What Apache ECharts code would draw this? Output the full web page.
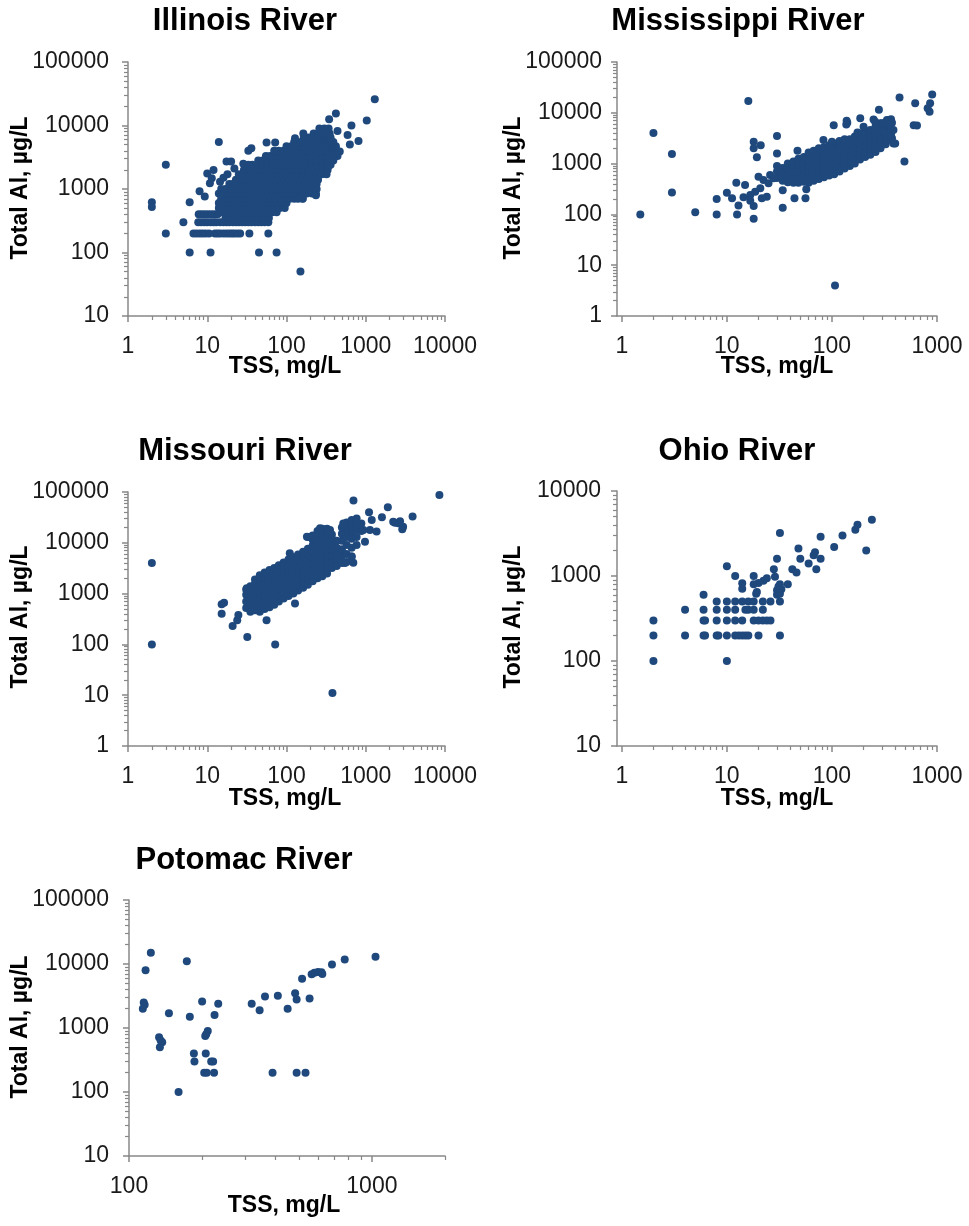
<!DOCTYPE html>
<html><head><meta charset="utf-8">
<script src="https://cdn.jsdelivr.net/npm/echarts@6/dist/echarts.min.js"></script>
<style>html,body{margin:0;padding:0;background:#fff}#c{width:969px;height:1226px}</style>
</head><body><div id="c"></div>
<script>
// ---------------- DATA ----------------
const titles = ['Illinois River', 'Mississippi River', 'Missouri River', 'Ohio River', 'Potomac River'];
const xTitle = 'TSS, mg/L';
const yTitle = 'Total Al, µg/L';

// axis extents and labelled (major) ticks
const xMin = [1, 0.9, 1, 0.9, 100];
const xMax = [10000, 1000, 10000, 1000, 2000];
const yMin = [10, 1, 1, 10, 10];
const yMax = [100000, 100000, 100000, 10000, 100000];
const xTickLabels = [[1, 10, 100, 1000, 10000], [1, 10, 100, 1000], [1, 10, 100, 1000, 10000], [1, 10, 100, 1000], [100, 1000]];
const yTickLabels = [[10, 100, 1000, 10000, 100000], [1, 10, 100, 1000, 10000, 100000], [1, 10, 100, 1000, 10000, 100000], [10, 100, 1000, 10000], [10, 100, 1000, 10000, 100000]];

// Illinois: rows of [Total Al, [TSS values]] for the dense cloud, plus single points [TSS, Al]
const illinoisRows = [
  [200, [6.7, 7.3, 8, 8.7, 9.5, 10.5, 12.5, 13.5, 14.5, 16, 17.5, 19, 20.5, 22, 24, 26, 34, 59]],
  [300, [7.7, 8.4, 9.2, 10, 11, 12, 13, 14.5, 16, 17.5, 19, 21, 23, 25, 27.5, 30, 33, 36, 40, 44, 48, 53, 59]],
  [350, [17, 19, 22, 25, 29, 33, 38, 44, 51, 60]],
  [400, [7.8, 8.5, 9.3, 10.2, 11.2, 12.3, 13.5]],
  [430, [15, 16, 18, 21, 24, 28, 32, 37, 43, 50, 58, 66, 75]],
  [500, [14, 17, 19, 22, 26, 30, 35, 40, 46, 53, 62, 71, 82, 95]],
  [600, [14, 16, 18, 21, 24, 28, 32, 37, 43, 50, 58, 67, 77, 89, 100]],
  [700, [15, 17, 20, 23, 26, 30, 35, 40, 46, 53, 62, 72, 83, 96, 110, 125, 140, 160]],
  [850, [14, 16, 18, 21, 24, 28, 32, 37, 43, 50, 58, 67, 77, 89, 100, 120, 135, 155, 180, 210, 235]],
  [1000, [15, 17, 20, 23, 26, 30, 35, 40, 46, 53, 62, 72, 83, 96, 110, 125, 145, 165, 190, 220, 240]],
  [1200, [19, 21, 24, 28, 32, 37, 43, 50, 58, 67, 77, 89, 100, 120, 135, 155, 180, 210, 240]],
  [1400, [23, 26, 30, 34, 40, 46, 53, 62, 72, 83, 95, 110, 125, 145, 165, 190, 220, 250]],
  [1700, [25, 28, 32, 37, 43, 50, 58, 67, 77, 89, 100, 120, 135, 155, 180, 210, 240, 280, 320]],
  [2000, [29, 34, 40, 46, 53, 62, 72, 83, 95, 110, 125, 145, 165, 190, 220, 250, 290, 330]],
  [2400, [33, 37, 43, 50, 58, 67, 77, 89, 100, 120, 135, 155, 180, 210, 240, 280, 320, 360]],
  [2800, [44, 50, 58, 67, 77, 89, 100, 120, 135, 155, 180, 210, 240, 280, 320, 370, 390]],
  [3300, [55, 62, 72, 83, 95, 110, 125, 145, 165, 190, 220, 250, 290, 330, 380, 440]],
  [4000, [70, 80, 92, 105, 120, 140, 160, 185, 210, 240, 280, 320, 370, 430]],
  [4700, [100, 115, 130, 150, 170, 195, 220, 250, 290, 330, 380, 420]],
  [5500, [125, 140, 160, 180, 210, 240, 280, 320, 360, 390]],
  [6500, [165, 190, 215, 245, 280, 320, 360]],
  [7500, [220, 250, 280, 320, 350]],
  [9000, [260, 300, 340]]
];
const illinoisPts = [
  [2, 620], [2, 520], [3, 2400], [3, 200], [5, 300], [6, 100], [11, 100], [45, 100], [75, 100], [150, 50],
  [14, 5500], [6, 620], [8, 920], [9.3, 760], [1300, 26000], [1030, 12000], [660, 10000], [590, 7100],
  [630, 5000], [810, 5700], [420, 15500], [440, 8200], [345, 12500], [470, 3900], [160, 710], [235, 800],
  [163, 7500], [128, 6300], [56, 5400], [72, 5400], [33, 4000], [36, 4400], [17.5, 2700], [20, 2700],
  [22, 2100], [28.5, 2500], [12, 2000], [10, 1750], [11.4, 1480], [14.5, 1300], [10.8, 1230], [16, 1500],
  [18, 1700], [336, 2250]
];

// Mississippi: columns of [TSS, [Al values]] for the band, plus single points
const mississippiCols = [
  [30, [520, 700, 900]],
  [34, [460, 620, 820]],
  [38, [430, 560, 760, 1000]],
  [43, [420, 540, 700, 900, 1100]],
  [48, [420, 560, 720, 950, 1250]],
  [54, [440, 580, 760, 1000, 1350]],
  [60, [420, 540, 700, 920, 1200, 1500, 1650]],
  [67, [460, 600, 780, 1000, 1300, 1650, 1800]],
  [75, [500, 650, 850, 1100, 1400, 1800, 2000]],
  [84, [540, 700, 900, 1150, 1500, 1900, 2100]],
  [94, [580, 750, 980, 1250, 1600, 2000, 2300]],
  [105, [620, 800, 1050, 1350, 1750, 2200, 2500]],
  [118, [700, 900, 1150, 1500, 1900, 2400, 2800]],
  [132, [800, 1000, 1300, 1700, 2150, 2700, 3000]],
  [148, [900, 1150, 1450, 1850, 2400, 3000]],
  [165, [1000, 1300, 1650, 2100, 2700, 3400]],
  [185, [1200, 1500, 1950, 2500, 3200, 3900]],
  [207, [1350, 1750, 2250, 2900, 3600, 4200]],
  [232, [1500, 1950, 2500, 3200, 4000, 4600]],
  [260, [1700, 2200, 2900, 3700, 4600, 5400]],
  [290, [2000, 2600, 3300, 4300, 5400, 6200]],
  [325, [2400, 3100, 4000, 5200, 6500]],
  [365, [2900, 3700, 4800, 6200, 7500]]
];
const mississippiPts = [
  [1.5, 100], [2, 4000], [3, 1550], [3, 270], [5, 110], [8, 100], [8, 200], [16, 17000], [18, 82], [107, 4],
  [490, 1100], [440, 20000], [620, 15500], [600, 5700], [645, 5600], [900, 23000], [860, 15400], [815, 12300],
  [850, 10500], [280, 11500], [186, 7800], [140, 6400], [137, 5900], [104, 5700], [249, 7400], [258, 6700],
  [346, 7200], [373, 6400], [300, 6200], [385, 4600], [373, 3150], [385, 2500], [200, 5300], [175, 4100],
  [30, 3500], [18, 2700], [21, 2300], [18, 2000], [19.3, 1330], [30, 1580], [47, 1800], [12.3, 420],
  [14.9, 380], [10, 267], [11.2, 207], [12.9, 150], [12.5, 100], [18, 146], [14.4, 217], [16.7, 241],
  [18.6, 280], [20.8, 326], [22.3, 475], [25.8, 596], [24.9, 409], [21.5, 207], [24, 223], [16.7, 186],
  [20, 553], [27.8, 513], [34, 300], [34, 135], [44, 207], [56, 207], [57, 312], [31, 808], [83, 2920],
  [100, 2700], [138, 6950], [334, 7200], [310, 4250], [400, 2500]
];

// Missouri: columns of [TSS, [Al values]] for the band, plus single points
const missouriCols = [
  [31, [520, 700, 950, 1200]],
  [35, [440, 600, 800, 1050, 1400]],
  [40, [470, 640, 860, 1150, 1550, 1900]],
  [46, [440, 590, 800, 1050, 1400, 1850, 2300]],
  [53, [500, 660, 880, 1150, 1550, 2000, 2600]],
  [61, [540, 720, 960, 1270, 1680, 2200, 2900]],
  [70, [600, 800, 1050, 1400, 1850, 2450, 3200]],
  [80, [700, 920, 1200, 1600, 2100, 2800, 3600]],
  [92, [800, 1050, 1400, 1850, 2400, 3200, 4100]],
  [106, [900, 1200, 1550, 2050, 2700, 3550, 4700]],
  [122, [1000, 1300, 1750, 2300, 3000, 3950, 5200]],
  [140, [1150, 1500, 2000, 2600, 3400, 4500, 5900]],
  [162, [1300, 1700, 2250, 2950, 3900, 5100, 6700]],
  [186, [1500, 1950, 2550, 3350, 4400, 5800, 7600, 13000]],
  [214, [1750, 2300, 3000, 3900, 5100, 6700, 8800, 11500, 14000]],
  [246, [2000, 2600, 3400, 4500, 5900, 7700, 10000, 13000, 17000]],
  [283, [2200, 2900, 3800, 5000, 6500, 8500, 11000, 14500, 19000]],
  [325, [2500, 3300, 4300, 5600, 7300, 9500, 12500, 16500, 19000]],
  [374, [3200, 4200, 5500, 7200, 9400, 12000, 14500]],
  [430, [3500, 4500, 6000, 8000, 11000]],
  [500, [4000, 5500, 7500, 11000, 15000, 20000]],
  [574, [4200, 6000, 9000, 13000, 18000, 25000]],
  [664, [5400, 8000, 12000, 16000, 22000, 28000]],
  [767, [9000, 13000, 18000, 24000, 30000]],
  [880, [17000, 24000]]
];
const missouriPts = [
  [2, 4000], [2, 100], [380, 11], [72, 100], [32, 140], [8500, 87000], [700, 68000], [1900, 50000],
  [3900, 33000], [1100, 40000], [1600, 32000], [128, 640], [110, 6200], [56, 300], [15.2, 620], [16.3, 660],
  [15.2, 400], [20.9, 230], [23.9, 300], [24.7, 380], [31.5, 1270], [265, 19300], [354, 17900], [181, 13200],
  [217, 13400], [520, 24000], [1130, 17900], [1370, 16600], [1190, 28000], [2220, 26000], [2570, 24200],
  [2890, 18400], [2340, 24900], [2710, 26700], [2960, 20700], [933, 17900], [978, 10500], [547, 4000],
  [697, 4060], [664, 5370]
];

// Ohio: rows of [Total Al, [TSS values]] (values were reported in steps), plus single points
const ohioRows = [
  [100, [2, 10]],
  [200, [2, 4, 6, 6.2, 8, 8.3, 10, 12, 13, 14, 15, 16, 20, 32]],
  [300, [2, 6, 6.2, 8, 10, 12, 14, 18, 20, 22, 24, 26]],
  [400, [4, 6, 8, 10, 12, 15, 16, 18, 22]],
  [500, [8, 10, 12, 14, 16, 18, 22, 26, 32]]
];
const ohioPts = [
  [6, 600], [19, 620], [30, 600], [12, 1000], [14, 820], [14, 710], [18, 1000], [18, 800], [20, 830],
  [22.3, 880], [24, 940], [19.3, 650], [28.7, 980], [28, 1200], [30, 1600], [32, 3200], [31, 750], [32, 800],
  [33, 700], [30, 680], [32, 620], [38, 800], [42, 1200], [46, 1100], [48, 2100], [50, 1600], [60, 1400],
  [69, 1900], [67, 1750], [78, 1600], [71, 1200], [105, 2200], [78, 2900], [126, 3000], [167, 3500],
  [175, 4000], [240, 4600], [212, 2000], [10, 1300]
];

// Potomac: single points [TSS, Al]
const potomacPts = [
  [123, 15000], [117, 8000], [173, 11000], [115, 2500], [116, 2300], [114, 2000], [146, 1700], [178, 1500],
  [200, 2600], [233, 2400], [225, 1600], [211, 900], [208, 800], [206, 750], [133, 720], [135, 640],
  [137, 600], [134, 500], [185, 400], [207, 400], [186, 300], [218, 300], [222, 300], [204, 200], [209, 200],
  [224, 200], [160, 100], [320, 2400], [345, 1900], [363, 3100], [410, 3200], [450, 2000], [483, 3500],
  [490, 2800], [554, 2900], [390, 200], [490, 200], [533, 200], [516, 5900], [565, 6900], [580, 7300],
  [600, 7500], [620, 7400], [625, 7000], [685, 9800], [773, 11800], [1035, 13000]
];

// ---------------- BUILD ----------------
const fromRows = rows => rows.flatMap(([al, xs]) => xs.map(x => [x, al]));
const fromCols = cols => cols.flatMap(([x, als]) => als.map(al => [x, al]));
const seriesData = [
  fromRows(illinoisRows).concat(illinoisPts),
  fromCols(mississippiCols).concat(mississippiPts),
  fromCols(missouriCols).concat(missouriPts),
  fromRows(ohioRows).concat(ohioPts),
  potomacPts
];

const FONT = '"Liberation Sans", Arial, Helvetica, sans-serif';
const AXIS_COLOR = '#888888';
const POINT_COLOR = '#1F497D';

const layout = [
  {grid: {left: 128, top: 62, width: 317, height: 254}, yMargin: 19, title: [245, 21], ytitle: [21, 188], xtitle: [285, 367]},
  {grid: {left: 617, top: 62, width: 320, height: 254}, yMargin: 15, title: [738, 21], ytitle: [514, 188], xtitle: [777, 367]},
  {grid: {left: 128, top: 492, width: 317, height: 254}, yMargin: 19, title: [245, 451], ytitle: [21, 617], xtitle: [285, 799]},
  {grid: {left: 617, top: 491, width: 320, height: 255}, yMargin: 16, title: [737, 451], ytitle: [514, 617], xtitle: [777, 799]},
  {grid: {left: 129, top: 900, width: 316, height: 256}, yMargin: 20, title: [244, 860], ytitle: [21, 1027], xtitle: [284, 1206]}
];

function minorTicks(lo, hi) {
  const out = [];
  for (let d = lo; d < hi; d *= 10) for (let m = 2; m <= 9; m++) { const v = d * m; if (v <= hi) out.push(v); }
  return out;
}
function mainAxis(i, lo, hi, ticks, isX, margin) {
  return {
    type: 'log', logBase: 10, gridIndex: i, min: lo, max: hi, position: isX ? 'bottom' : 'left',
    axisLine: {show: true, onZero: false, lineStyle: {color: AXIS_COLOR, width: 1.5}},
    axisTick: {show: true, length: 6, customValues: ticks, lineStyle: {color: AXIS_COLOR, width: 1.5}},
    axisLabel: {show: true, customValues: ticks, margin: margin, fontSize: 23, fontFamily: FONT,
      color: '#1a1a1a', formatter: v => String(Math.round(v))},
    splitLine: {show: false}, minorTick: {show: false}
  };
}
function minorAxis(i, lo, hi, firstMajor, isX) {
  return {
    type: 'log', logBase: 10, gridIndex: i, min: lo, max: hi, position: isX ? 'bottom' : 'left',
    axisLine: {show: false},
    axisTick: {show: true, length: 4, customValues: minorTicks(firstMajor, hi), lineStyle: {color: AXIS_COLOR, width: 1.2}},
    axisLabel: {show: false}, splitLine: {show: false}, minorTick: {show: false}
  };
}

const grids = [], xAxes = [], yAxes = [], series = [], graphics = [];
for (let i = 0; i < 5; i++) {
  grids.push(Object.assign({containLabel: false}, layout[i].grid));
  xAxes.push(mainAxis(i, xMin[i], xMax[i], xTickLabels[i], true, 19));
  xAxes.push(minorAxis(i, xMin[i], xMax[i], xTickLabels[i][0], true));
  yAxes.push(mainAxis(i, yMin[i], yMax[i], yTickLabels[i], false, layout[i].yMargin));
  yAxes.push(minorAxis(i, yMin[i], yMax[i], yTickLabels[i][0], false));
  series.push({
    type: 'scatter', xAxisIndex: 2 * i, yAxisIndex: 2 * i, data: seriesData[i],
    symbol: 'circle', symbolSize: 8, itemStyle: {color: POINT_COLOR, opacity: 1}, silent: true
  });
  const txt = (t, p, size, rot) => ({
    type: 'text', x: p[0], y: p[1], rotation: rot || 0, silent: true,
    style: {text: t, fontSize: size, fontWeight: 'bold', fontFamily: FONT, fill: '#000',
      align: 'center', verticalAlign: 'middle', textAlign: 'center', textVerticalAlign: 'middle'}
  });
  graphics.push(txt(titles[i], layout[i].title, 31));
  graphics.push(txt(xTitle, layout[i].xtitle, 23));
  graphics.push(txt(yTitle, layout[i].ytitle, 23, Math.PI / 2));
}

const chart = echarts.init(document.getElementById('c'), null, {renderer: 'canvas'});
chart.setOption({
  animation: false, backgroundColor: '#fff',
  grid: grids, xAxis: xAxes, yAxis: yAxes, series: series, graphic: graphics
});
</script></body></html>
